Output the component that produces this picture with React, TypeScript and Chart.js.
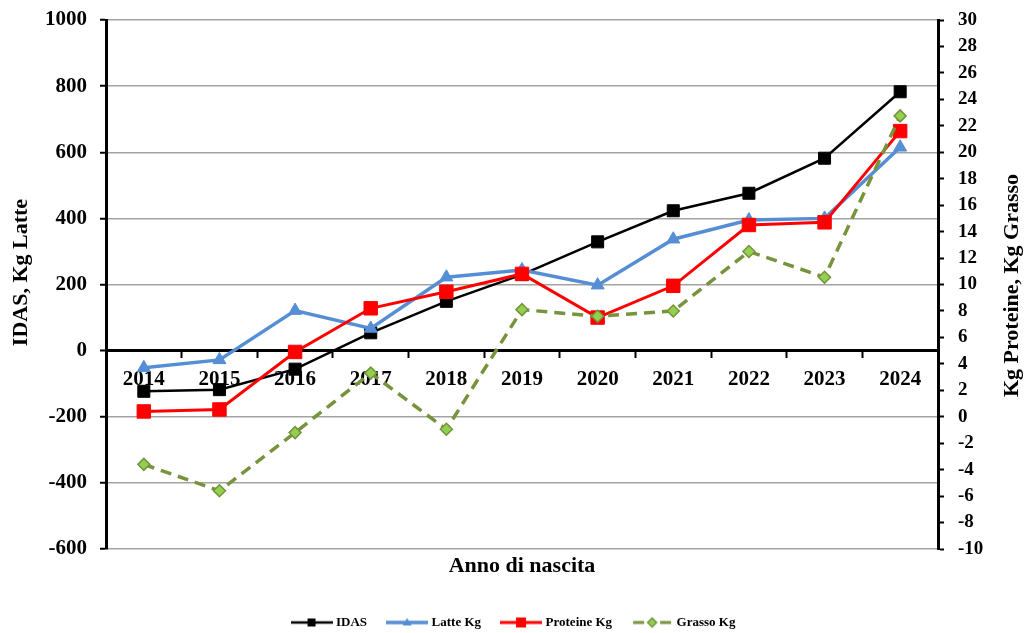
import { useEffect, useRef } from "react";
import { Chart, registerables } from "chart.js";

Chart.register(...registerables);

// Birth years on the category axis
const years = ["2014", "2015", "2016", "2017", "2018", "2019", "2020", "2021", "2022", "2023", "2024"];

// Left axis series (IDAS index, Kg milk)
const idas = [-123, -118, -56, 54, 149, 230, 329, 423, 476, 582, 783];
const latteKg = [-52, -28, 121, 67, 222, 244, 198, 337, 395, 400, 615];

// Right axis series (Kg protein, Kg fat)
const proteineKg = [0.4, 0.55, 4.9, 8.2, 9.45, 10.8, 7.5, 9.9, 14.5, 14.7, 21.6];
const grassoKg = [-3.6, -5.6, -1.2, 3.3, -0.95, 8.1, 7.6, 8.0, 12.5, 10.55, 22.75];

// Axis ranges
const leftRange = [-600, 1000];
const leftStep = 200;
const rightRange = [-10, 30];
const rightStep = 2;

const seriesNames = ["IDAS", "Latte Kg", "Proteine Kg", "Grasso Kg"];
const leftTitle = "IDAS, Kg Latte";
const rightTitle = "Kg Proteine, Kg Grasso";
const xTitle = "Anno di nascita";

const SERIF = "'Liberation Serif', 'Times New Roman', serif";
const BLACK = "#000000";
const BLUE = "#558ED5";
const RED = "#FF0000";
const OLIVE = "#77933C";
const LIGHT_GREEN = "#92D050";
const GRID = "#a3a3a3";

function makeSwatch(draw: (g: CanvasRenderingContext2D) => void): HTMLCanvasElement {
  const c = document.createElement("canvas");
  c.width = 42;
  c.height = 14;
  const g = c.getContext("2d") as CanvasRenderingContext2D;
  draw(g);
  return c;
}

function buildSwatches(): HTMLCanvasElement[] {
  const idasSw = makeSwatch((g) => {
    g.strokeStyle = BLACK;
    g.lineWidth = 2.5;
    g.beginPath();
    g.moveTo(0, 7);
    g.lineTo(42, 7);
    g.stroke();
    g.fillStyle = BLACK;
    g.fillRect(17, 3, 8, 8);
  });
  const latteSw = makeSwatch((g) => {
    g.strokeStyle = BLUE;
    g.lineWidth = 3.5;
    g.beginPath();
    g.moveTo(0, 7);
    g.lineTo(42, 7);
    g.stroke();
    g.fillStyle = BLUE;
    g.beginPath();
    g.moveTo(21, 2.5);
    g.lineTo(25.5, 10);
    g.lineTo(16.5, 10);
    g.closePath();
    g.fill();
  });
  const protSw = makeSwatch((g) => {
    g.strokeStyle = RED;
    g.lineWidth = 3;
    g.beginPath();
    g.moveTo(0, 7);
    g.lineTo(42, 7);
    g.stroke();
    g.fillStyle = RED;
    g.fillRect(16, 2, 10, 10);
  });
  const grassoSw = makeSwatch((g) => {
    g.strokeStyle = OLIVE;
    g.lineWidth = 3;
    g.beginPath();
    g.moveTo(2, 7);
    g.lineTo(13, 7);
    g.moveTo(29, 7);
    g.lineTo(40, 7);
    g.stroke();
    g.fillStyle = LIGHT_GREEN;
    g.strokeStyle = OLIVE;
    g.lineWidth = 1.5;
    g.beginPath();
    g.moveTo(21, 2.5);
    g.lineTo(25.5, 7);
    g.lineTo(21, 11.5);
    g.lineTo(16.5, 7);
    g.closePath();
    g.fill();
    g.stroke();
  });
  return [idasSw, latteSw, protSw, grassoSw];
}

// Rotated titles on both vertical axes, both reading bottom-to-top
const sideTitles = {
  id: "sideTitles",
  afterDraw(chart: any) {
    const { ctx, chartArea } = chart;
    const midY = (chartArea.top + chartArea.bottom) / 2;
    ctx.save();
    ctx.font = `bold 22px ${SERIF}`;
    ctx.fillStyle = BLACK;
    ctx.textAlign = "center";
    ctx.textBaseline = "middle";

    ctx.save();
    ctx.translate(21, midY - 12);
    ctx.rotate(-Math.PI / 2);
    ctx.fillText(leftTitle, 0, 0);
    ctx.restore();

    ctx.save();
    ctx.translate(1012, midY + 1);
    ctx.rotate(-Math.PI / 2);
    ctx.fillText(rightTitle, 0, 0);
    ctx.restore();

    ctx.restore();
  },
};

// Fixed axis width; label overhang should not push the plot area down
function fixWidth(w: number) {
  return (scale: any) => {
    scale.width = w;
    scale.paddingTop = 0;
    scale.paddingBottom = 0;
  };
}

export default function App() {
  const canvasRef = useRef<HTMLCanvasElement | null>(null);

  useEffect(() => {
    const canvas = canvasRef.current;
    if (!canvas) return;
    const swatches = buildSwatches();

    const chart = new Chart(canvas, {
      type: "line",
      data: {
        labels: years,
        datasets: [
          {
            label: seriesNames[0],
            data: idas,
            yAxisID: "y",
            borderColor: BLACK,
            backgroundColor: BLACK,
            borderWidth: 2.5,
            pointStyle: "rect",
            pointRadius: 8.5,
            pointBackgroundColor: BLACK,
            pointBorderColor: BLACK,
            pointBorderWidth: 1,
            tension: 0,
            order: 4,
          },
          {
            label: seriesNames[1],
            data: latteKg,
            yAxisID: "y",
            borderColor: BLUE,
            backgroundColor: BLUE,
            borderWidth: 3.5,
            pointStyle: "triangle",
            pointRadius: 7.5,
            pointBackgroundColor: BLUE,
            pointBorderColor: BLUE,
            pointBorderWidth: 1,
            tension: 0,
            order: 3,
          },
          {
            label: seriesNames[2],
            data: proteineKg,
            yAxisID: "y1",
            borderColor: RED,
            backgroundColor: RED,
            borderWidth: 3,
            pointStyle: "rect",
            pointRadius: 9.5,
            pointBackgroundColor: RED,
            pointBorderColor: RED,
            pointBorderWidth: 1,
            tension: 0,
            order: 2,
          },
          {
            label: seriesNames[3],
            data: grassoKg,
            yAxisID: "y1",
            borderColor: OLIVE,
            backgroundColor: LIGHT_GREEN,
            borderWidth: 3.5,
            borderDash: [11, 7],
            pointStyle: "rectRot",
            pointRadius: 6,
            pointBackgroundColor: LIGHT_GREEN,
            pointBorderColor: OLIVE,
            pointBorderWidth: 1.5,
            tension: 0,
            order: 1,
          },
        ],
      },
      options: {
        animation: false,
        responsive: false,
        devicePixelRatio: 1,
        layout: { padding: { top: 20, left: 0, right: 0, bottom: 0 } },
        scales: {
          y: {
            type: "linear",
            position: "left",
            min: leftRange[0],
            max: leftRange[1],
            afterFit: fixWidth(106),
            ticks: {
              stepSize: leftStep,
              autoSkip: false,
              color: BLACK,
              padding: 13,
              font: { family: SERIF, size: 21, weight: "bold" },
              callback: (v: any) => String(v),
            },
            grid: {
              color: (c: any) => (c.tick && c.tick.value === 0 ? BLACK : GRID),
              lineWidth: (c: any) => (c.tick && c.tick.value === 0 ? 3 : 1.5),
              tickColor: BLACK,
              tickLength: 6,
              tickWidth: 2,
            },
            border: { display: true, color: BLACK, width: 3 },
          },
          y1: {
            type: "linear",
            position: "right",
            min: rightRange[0],
            max: rightRange[1],
            afterFit: fixWidth(91),
            ticks: {
              stepSize: rightStep,
              autoSkip: false,
              color: BLACK,
              padding: 14,
              font: { family: SERIF, size: 19, weight: "bold" },
              callback: (v: any) => String(v),
            },
            grid: {
              drawOnChartArea: false,
              tickColor: BLACK,
              tickLength: 6,
              tickWidth: 2,
            },
            border: { display: true, color: BLACK, width: 3 },
          },
          x: {
            type: "category",
            position: { y: 0 } as any,
            offset: true,
            ticks: {
              color: BLACK,
              padding: 10,
              autoSkip: false,
              maxRotation: 0,
              font: { family: SERIF, size: 21, weight: "bold" },
            },
            grid: {
              drawOnChartArea: false,
              offset: true,
              tickColor: BLACK,
              tickLength: 6,
              tickWidth: 2,
            },
            border: { display: true, color: BLACK, width: 3 },
          },
        },
        plugins: {
          tooltip: { enabled: false },
          title: {
            display: true,
            text: xTitle,
            position: "bottom",
            fullSize: false,
            weight: 500,
            color: BLACK,
            padding: { top: 4, bottom: 14.6 },
            font: { family: SERIF, size: 22, weight: "bold" },
          },
          legend: {
            position: "bottom",
            maxHeight: 39,
            labels: {
              usePointStyle: true,
              pointStyleWidth: 36,
              padding: 22,
              color: BLACK,
              font: { family: SERIF, size: 13, weight: "bold" },
              generateLabels: (ch: any) =>
                ch.data.datasets.map((ds: any, i: number) => ({
                  text: ds.label,
                  pointStyle: swatches[i],
                  datasetIndex: i,
                  hidden: false,
                  lineWidth: 0,
                  fillStyle: "rgba(0,0,0,0)",
                  strokeStyle: "rgba(0,0,0,0)",
                  fontColor: BLACK,
                })),
            },
          },
        },
      } as any,
      plugins: [sideTitles],
    });

    return () => {
      chart.destroy();
    };
  }, []);

  return (
    <div style={{ position: "absolute", left: 0, top: 0, width: 1029, height: 633, background: "#ffffff" }}>
      <canvas ref={canvasRef} width={1029} height={633} style={{ display: "block" }} />
    </div>
  );
}
